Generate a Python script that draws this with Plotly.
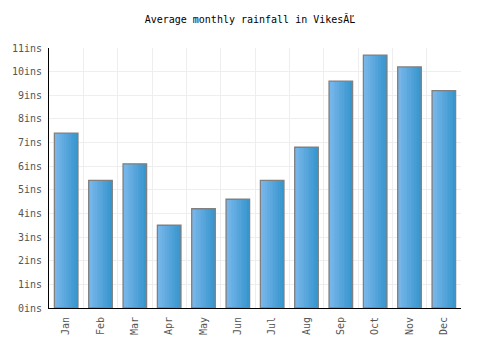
import plotly.graph_objects as go

months = ["Jan", "Feb", "Mar", "Apr", "May", "Jun", "Jul", "Aug", "Sep", "Oct", "Nov", "Dec"]
rainfall = [7.4, 5.4, 6.1, 3.5, 4.2, 4.6, 5.4, 6.8, 9.6, 10.7, 10.2, 9.2]
y_ticks = list(range(0, 12))
y_tick_labels = [f"{v}ins" for v in y_ticks]
title_text = "Average monthly rainfall in VikesĂĽ"

fig = go.Figure()

bar_w = 0.686
n_slices = 14
c0 = (122, 184, 235)
c1 = (56, 150, 206)
sw = bar_w / n_slices
for i in range(n_slices):
    t = i / (n_slices - 1)
    col = tuple(round(a + (b - a) * t) for a, b in zip(c0, c1))
    fig.add_trace(go.Bar(
        x=months, y=rainfall,
        width=sw * 1.08,
        offset=-bar_w / 2 + i * sw,
        marker=dict(color=f"rgb{col}", line=dict(width=0)),
        hoverinfo="skip", showlegend=False,
    ))
fig.add_trace(go.Bar(
    x=months, y=rainfall,
    width=bar_w, offset=-bar_w / 2,
    marker=dict(color="rgba(0,0,0,0)", line=dict(color="#808080", width=1.3)),
    showlegend=False,
))

fig.update_layout(
    barmode="overlay",
    width=500, height=350,
    margin=dict(l=41, r=39, t=48, b=42),
    paper_bgcolor="white", plot_bgcolor="white",
    title=dict(text=title_text, x=0.5, xanchor="center", y=0.943, yanchor="middle",
               font=dict(family="DejaVu Sans Mono", size=10, color="#000")),
    font=dict(family="DejaVu Sans Mono", size=10, color="#555"),
)
fig.update_xaxes(
    type="category", tickson="boundaries", showgrid=True, gridcolor="#eeeeee", gridwidth=1,
    showline=True, linecolor="#000", linewidth=1, ticks="", tickangle=-90,
    ticklabelstandoff=4, tickfont=dict(family="DejaVu Sans Mono", size=10, color="#555"),
    range=[-0.5, 11.5],
)
fig.update_yaxes(
    range=[0, 11], tickvals=y_ticks, ticktext=y_tick_labels,
    showgrid=True, gridcolor="#eeeeee", gridwidth=1,
    showline=True, linecolor="#000", linewidth=1, ticks="", zeroline=False,
    ticklabelstandoff=4, tickfont=dict(family="DejaVu Sans Mono", size=10, color="#555"),
)

fig.write_html("out.html")
